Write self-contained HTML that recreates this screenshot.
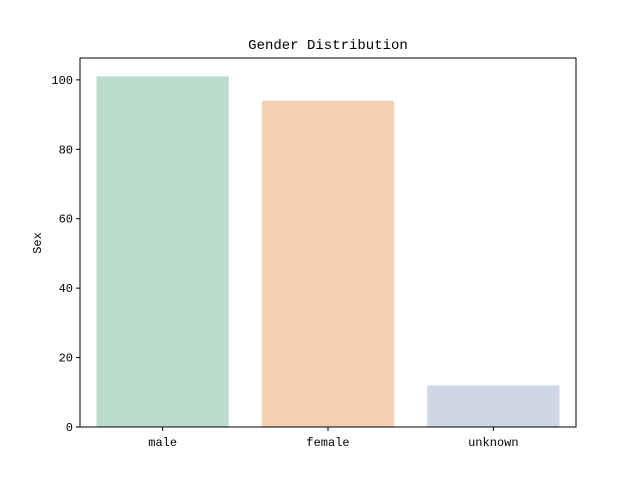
<!DOCTYPE html>
<html><head><meta charset="utf-8"><style>
body{margin:0;background:#fff;}
svg text{font-family:"Liberation Mono",monospace;fill:#000;}
</style></head><body>
<svg id="chart" width="640" height="480" xmlns="http://www.w3.org/2000/svg">
<rect width="640" height="480" fill="#fff"/>
<text x="328" y="49" font-size="14" text-anchor="middle">Gender Distribution</text>
<text transform="translate(41,243) rotate(-90)" font-size="12" text-anchor="middle">Sex</text>
<g id="bars"></g>
<g id="yticks"></g>
<g id="xticks"></g>
<rect x="80" y="58" width="496" height="369" fill="none" stroke="#000" stroke-width="1"/>
</svg>
<script>
const categories = ["male","female","unknown"];
const values = [101,94,12];
const colors = ["#bbdccc","#f3d0b4","#d0d7e4"];
const yTickValues = [0,20,40,60,80,100];
const yMax = 106.3;
const L=80,R=576,T=58,B=427;
const ns="http://www.w3.org/2000/svg";
const y=v=>B-(v/yMax)*(B-T);
const step=(R-L)/categories.length;
const x=i=>L+step*(i+0.5);
const bars=document.getElementById('bars'),yt=document.getElementById('yticks'),xt=document.getElementById('xticks');
categories.forEach((c,i)=>{
  const r=document.createElementNS(ns,'rect');
  const w=step*0.8;
  r.setAttribute('x',x(i)-w/2);r.setAttribute('y',y(values[i]));
  r.setAttribute('width',w);r.setAttribute('height',B-y(values[i]));
  r.setAttribute('fill',colors[i]);
  
  
  bars.appendChild(r);
  const l=document.createElementNS(ns,'line');
  l.setAttribute('x1',x(i));l.setAttribute('x2',x(i));l.setAttribute('y1',B);l.setAttribute('y2',B+4);l.setAttribute('stroke','#000');
  
  
  xt.appendChild(l);
  const t=document.createElementNS(ns,'text');
  t.setAttribute('x',x(i));t.setAttribute('y',B+19);t.setAttribute('font-size','12');t.setAttribute('text-anchor','middle');
  t.textContent=c;
  
  
  xt.appendChild(t);
});
yTickValues.forEach(v=>{
  const l=document.createElementNS(ns,'line');
  l.setAttribute('x1',L-4);l.setAttribute('x2',L);l.setAttribute('y1',y(v));l.setAttribute('y2',y(v));l.setAttribute('stroke','#000');
  
  
  yt.appendChild(l);
  const t=document.createElementNS(ns,'text');
  t.setAttribute('x',L-7);t.setAttribute('y',y(v)+4);t.setAttribute('font-size','12');t.setAttribute('text-anchor','end');
  t.textContent=v;
  
  
  yt.appendChild(t);
});
</script>
</body></html>
